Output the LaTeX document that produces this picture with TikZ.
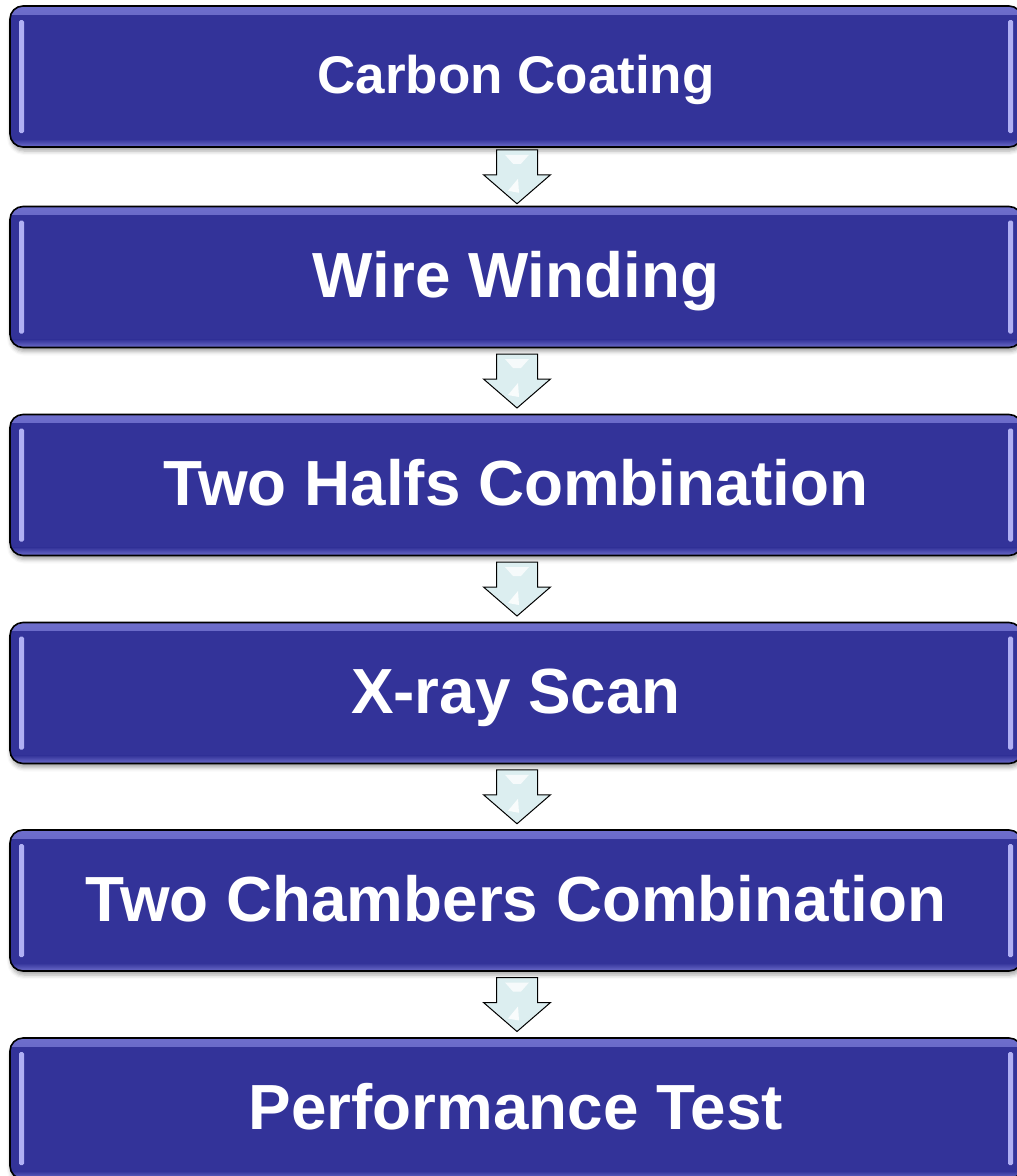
\documentclass[tikz,border=0pt]{standalone}
\usepackage{fontspec}
\setmainfont{Liberation Sans}
\usetikzlibrary{calc,shadows.blur}

\definecolor{boxblue}{HTML}{333399}
\definecolor{boxglow}{HTML}{6E6ECC}
\definecolor{gleam}{HTML}{B0B0F4}
\definecolor{arrowfill}{HTML}{DCEEF0}

\tikzset{
  % glossy process box
  stage/.style={
    draw=black, line width=1.6pt, fill=boxblue, rounded corners=13pt,
    minimum width=1012pt, minimum height=141pt, inner sep=0pt,
    text=white, font=\bfseries\fontsize{63.8}{70}\selectfont,
    text height=41.5pt, text depth=0pt,
    blur shadow={shadow xshift=1pt, shadow yshift=-4pt,
                 shadow blur radius=4pt, shadow opacity=35},
    path picture={
      \shade[sharp corners, top color=boxglow, bottom color=boxblue]
        (path picture bounding box.north west) rectangle
        ([yshift=-8pt]path picture bounding box.north east);
      \shade[sharp corners, top color=boxblue, bottom color=boxglow]
        ([yshift=8pt]path picture bounding box.south west) rectangle
        (path picture bounding box.south east);
      \fill[gleam, rounded corners=1.5pt]
        ([xshift=9pt,yshift=-14pt]path picture bounding box.north west) rectangle
        ([xshift=14pt,yshift=14pt]path picture bounding box.south west);
      \fill[gleam, rounded corners=1.5pt]
        ([xshift=-9pt,yshift=-14pt]path picture bounding box.north east) rectangle
        ([xshift=-14pt,yshift=14pt]path picture bounding box.south east);
    }
  },
  smalltext/.style={font=\bfseries\fontsize{53}{60}\selectfont, text height=34pt},
  % block arrow between two stages
  downarrow/.pic={
    \draw[black, line width=1pt, line join=miter, fill=arrowfill]
      (-20.5,-27) -- (20.5,-27) -- (20.5,-2) -- (33.5,-2) -- (0,27)
      -- (-33.5,-2) -- (-20.5,-2) -- cycle;
    \fill[white, opacity=0.75] (-12,-22) -- (12,-22) -- (4,-13) -- (-4,-13) -- cycle;
    \fill[white, opacity=0.85] (-9,14) -- (1,2) -- (2,16) -- cycle;
  }
}

\begin{document}
\begin{tikzpicture}[x=1pt, y=-1pt]
  \clip (0,0) rectangle (1017,1176);

  \node[stage, smalltext] (b1) at (516,76.5)  {Carbon Coating};
  \node[stage] (b2) at (516,277)   {Wire Winding};
  \node[stage] (b3) at (516,485)   {Two Halfs Combination};
  \node[stage] (b4) at (516,693)   {X-ray Scan};
  \node[stage] (b5) at (516,900.5) {Two Chambers Combination};
  \node[stage] (b6) at (516,1108.5){Performance Test};

  \foreach \a/\b in {b1/b2, b2/b3, b3/b4, b4/b5, b5/b6} {
    \coordinate (m-\a) at ($(\a.south)!0.5!(\b.north)+(1,0)$);
    \pic at (m-\a) {downarrow};
  }
\end{tikzpicture}
\end{document}
